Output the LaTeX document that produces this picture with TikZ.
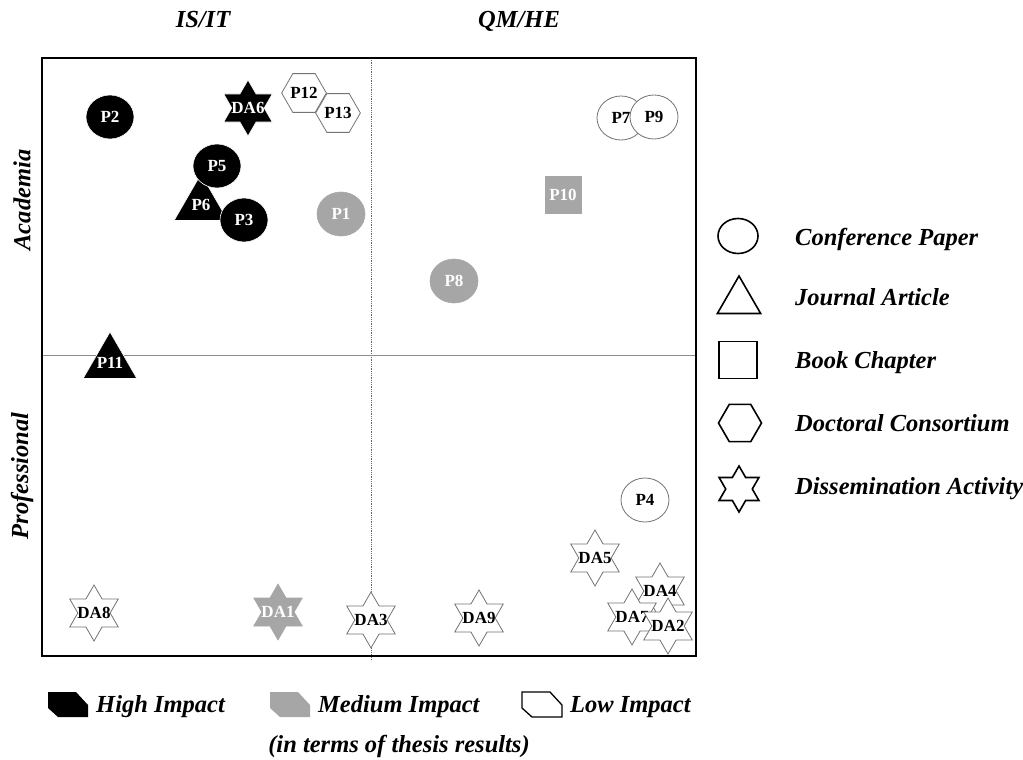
\documentclass[tikz,border=0pt]{standalone}
\usepackage{fontspec}
\setmainfont{Liberation Serif}
\usetikzlibrary{shapes.geometric}
\begin{document}
\begin{tikzpicture}[x=1pt,y=-1pt,
  lbl/.style={font=\fontsize{17}{17}\selectfont\bfseries, inner sep=0pt},
  ttl/.style={font=\fontsize{24.5}{26}\selectfont\bfseries\itshape, inner sep=0pt},
  conf/.style={ellipse, minimum width=48pt, minimum height=44pt, inner sep=0pt, lbl},
  journal/.style={regular polygon, regular polygon sides=3, minimum size=62pt, inner sep=0pt},
  chapter/.style={rectangle, minimum width=36pt, minimum height=37pt, inner sep=0pt, lbl},
  consort/.style={regular polygon, regular polygon sides=6, minimum size=44pt, inner sep=0pt, lbl},
  dissem/.style={star, star points=6, star point ratio=1.732, minimum size=56pt, inner sep=0pt},
  highimp/.style={fill=black, draw=white, line width=0.6pt, text=white},
  medimp/.style={fill=black!35, draw=black!35, line width=0.6pt, text=white},
  lowimp/.style={fill=white, draw=black!55, line width=0.8pt, text=black},
  keyshape/.style={draw=black, line width=1.6pt, fill=white, inner sep=0pt},
  txtw/.style={lbl, white},
  txtb/.style={lbl, black},
]
\useasboundingbox (0,0) rectangle (1023,760);

% quadrant axes
\coordinate (vtop) at (371,58);
\coordinate (vbot) at (371,661);
\coordinate (hleft) at (42,355);
\coordinate (hright) at (696,355);
\draw[black!60, densely dotted, line width=0.8pt] (vtop) -- (vbot);
\draw[black!45, line width=0.6pt] (hleft) -- (hright);

% column and row headings
\node[ttl, anchor=base] (isit) at (203,28) {IS/IT};
\node[ttl, anchor=base] (qmhe) at (519,28) {QM/HE};
\node[ttl, rotate=90] (acad) at (22,200) {Academia};
\node[ttl, rotate=90] (prof) at (22,476) {Professional};

% academia, IS/IT
\node[conf, highimp] (P2) at (110,117) {P2};
\node[dissem, highimp, label={[txtw]center:DA6}] (DA6) at (248,108) {};
\node[consort, lowimp] (P12) at (304,93) {P12};
\node[consort, lowimp] (P13) at (338,113) {P13};
\node[journal, highimp, label={[txtw]center:P6}] (P6) at (201,205) {};
\node[conf, highimp] (P5) at (217,166) {P5};
\node[conf, highimp] (P3) at (244,220) {P3};
\node[conf, medimp] (P1) at (341,214) {P1};
\node[journal, highimp, label={[txtw]center:P11}] (P11) at (110,363) {};

% academia, QM/HE
\node[conf, lowimp] (P7) at (621,118) {P7};
\node[conf, lowimp] (P9) at (654,117) {P9};
\node[chapter, medimp] (P10) at (563,195) {P10};
\node[conf, medimp] (P8) at (454,281) {P8};

% professional
\node[conf, lowimp] (P4) at (645,500) {P4};
\node[dissem, lowimp, label={[txtb]center:DA5}] (DA5) at (595,558) {};
\node[dissem, lowimp, label={[txtb]center:DA4}] (DA4) at (660,591) {};
\node[dissem, lowimp, label={[txtb]center:DA7}] (DA7) at (632,617) {};
\node[dissem, lowimp, label={[txtb]center:DA2}] (DA2) at (668,626) {};
\node[dissem, lowimp, label={[txtb]center:DA8}] (DA8) at (94,613) {};
\node[dissem, medimp, label={[txtw]center:DA1}] (DA1) at (278,612) {};
\node[dissem, lowimp, label={[txtb]center:DA3}] (DA3) at (371,620) {};
\node[dissem, lowimp, label={[txtb]center:DA9}] (DA9) at (479,618) {};

% frame
\draw[line width=2.5pt] (42,58) rectangle (696,656);

% type key
\node[keyshape, ellipse, minimum width=40pt, minimum height=35pt] (kconf) at (738,236) {};
\node[keyshape, regular polygon, regular polygon sides=3, minimum size=50pt] (kjour) at (739,301) {};
\node[keyshape, rectangle, minimum width=38pt, minimum height=37pt] (kbook) at (738,360) {};
\node[keyshape, regular polygon, regular polygon sides=6, minimum size=43pt] (kcons) at (740,423) {};
\node[keyshape, star, star points=6, star point ratio=1.732, minimum size=46pt] (kdiss) at (739,489) {};
\node[ttl, anchor=base west] (tconf) at (795,245) {Conference Paper};
\node[ttl, anchor=base west] (tjour) at (795,305) {Journal Article};
\node[ttl, anchor=base west] (tbook) at (795,368) {Book Chapter};
\node[ttl, anchor=base west] (tcons) at (795,431) {Doctoral Consortium};
\node[ttl, anchor=base west] (tdiss) at (795,494) {Dissemination Activity};

% impact key
\def\impactmark{(0,0) -- (28,0) -- (40,13) -- (40,25) -- (10,25) -- (0,16) -- cycle}
\fill[black, shift={(48,692)}] \impactmark;
\fill[black!35, shift={(270,692)}] \impactmark;
\draw[black, line width=1.3pt, fill=white, shift={(522,692)}] \impactmark;
\node[ttl, anchor=base west] (thigh) at (96,712) {High Impact};
\node[ttl, anchor=base west] (tmed) at (318,712) {Medium Impact};
\node[ttl, anchor=base west] (tlow) at (570,712) {Low Impact};
\node[ttl, anchor=base] (tnote) at (399,752) {(in terms of thesis results)};
\end{tikzpicture}
\end{document}
